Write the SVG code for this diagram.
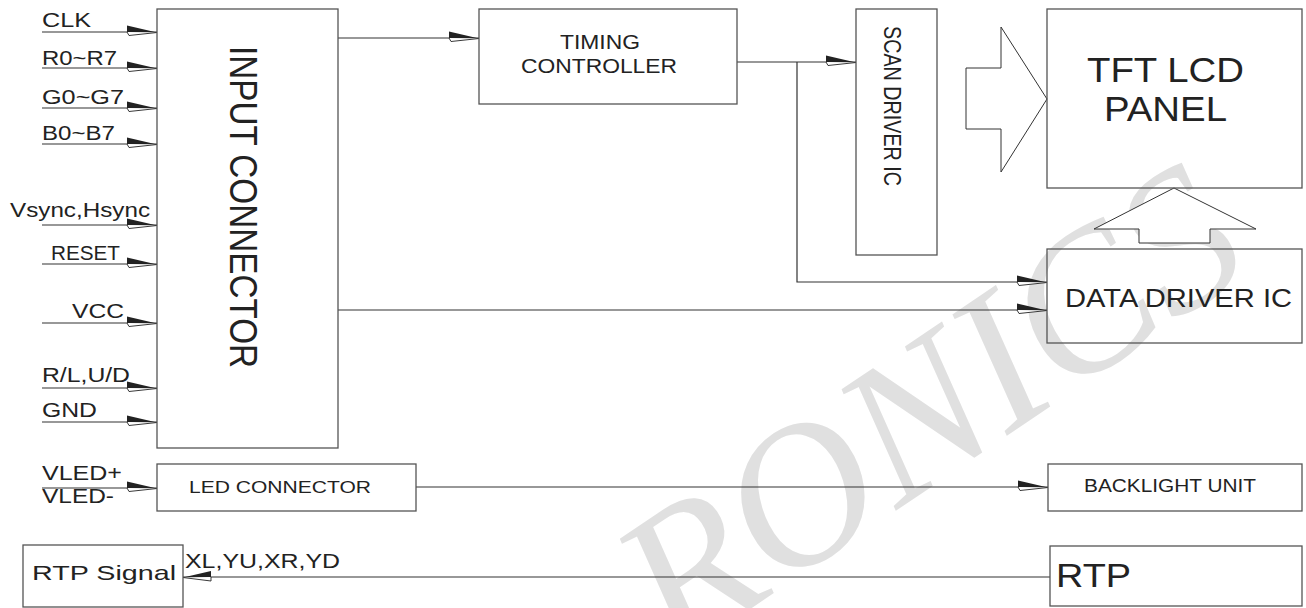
<svg xmlns="http://www.w3.org/2000/svg" width="1306" height="608" viewBox="0 0 1306 608">
<style>
  .box { fill: none; stroke: #555; stroke-width: 1.3; }
  .ln { fill: none; stroke: #333; stroke-width: 1.2; }
  .ln-r { marker-end: url(#arrowR); }
  .t { font-family: "Liberation Sans", Arial, sans-serif; fill: #222; }
  .blk { fill: #fff; stroke: #333; stroke-width: 1; }
  .wm { font-family: "Liberation Serif", "Times New Roman", serif; font-style: italic; fill: #e0e0e0; }
</style>
<defs>
  <marker id="arrowR" markerUnits="userSpaceOnUse" markerWidth="40" markerHeight="20" refX="0" refY="0" orient="0" overflow="visible">
    <path d="M0,0.5 L-30,-6.5 L-30,0 Z" fill="#222"/>
    <path d="M-30,0 L-28,3.5 L0,0.5" fill="#fff" stroke="#222" stroke-width="0.9"/>
  </marker>
  <marker id="arrowL" markerUnits="userSpaceOnUse" markerWidth="40" markerHeight="20" refX="0" refY="0" orient="0" overflow="visible">
    <path d="M0,0.5 L28,-6 L28,0 Z" fill="#222"/>
    <path d="M28,0 L28,4 L0,0.5" fill="#fff" stroke="#222" stroke-width="0.9"/>
  </marker>
</defs>
<rect width="1306" height="608" fill="#fff"/>

<g id="watermark">
  <text class="wm" font-size="200" transform="translate(676,659) rotate(-34)">RONICS</text>
</g>

<g id="connectors">
  <line class="ln ln-r" x1="42" y1="32" x2="157" y2="32"/>
  <line class="ln ln-r" x1="42" y1="68" x2="157" y2="68"/>
  <line class="ln ln-r" x1="42" y1="108" x2="157" y2="108"/>
  <line class="ln ln-r" x1="42" y1="144" x2="157" y2="144"/>
  <line class="ln ln-r" x1="42" y1="225" x2="157" y2="225"/>
  <line class="ln ln-r" x1="42" y1="264" x2="157" y2="264"/>
  <line class="ln ln-r" x1="42" y1="323" x2="157" y2="323"/>
  <line class="ln ln-r" x1="42" y1="388" x2="157" y2="388"/>
  <line class="ln ln-r" x1="42" y1="422" x2="157" y2="422"/>
  <line class="ln ln-r" x1="42" y1="488" x2="157" y2="488"/>
  <line class="ln ln-r" x1="338" y1="38" x2="479" y2="38"/>
  <line class="ln ln-r" x1="737" y1="62" x2="856" y2="62"/>
  <polyline class="ln ln-r" points="797,62 797,282 1047,282"/>
  <line class="ln ln-r" x1="338" y1="310" x2="1047" y2="310"/>
  <line class="ln ln-r" x1="416" y1="487" x2="1048" y2="487"/>
  <line class="ln" x1="1050" y1="577" x2="183" y2="577" marker-end="url(#arrowL)"/>
  <polygon class="blk" points="966,68 1001,68 1001,27 1047,99 1001,172 1001,129 966,129"/>
  <polygon class="blk" points="1174,188 1256,229 1210,229 1210,243 1139,243 1139,229 1094,229"/>
</g>

<g id="input-labels">
  <text class="t" x="42" y="27" font-size="20" textLength="49" lengthAdjust="spacingAndGlyphs">CLK</text>
  <text class="t" x="42" y="65" font-size="20" textLength="75" lengthAdjust="spacingAndGlyphs">R0~R7</text>
  <text class="t" x="42" y="104" font-size="20" textLength="82" lengthAdjust="spacingAndGlyphs">G0~G7</text>
  <text class="t" x="42" y="140" font-size="20" textLength="73" lengthAdjust="spacingAndGlyphs">B0~B7</text>
  <text class="t" x="10" y="217" font-size="21" textLength="140" lengthAdjust="spacingAndGlyphs">Vsync,Hsync</text>
  <text class="t" x="51" y="260" font-size="21" textLength="69" lengthAdjust="spacingAndGlyphs">RESET</text>
  <text class="t" x="72" y="318" font-size="21" textLength="52" lengthAdjust="spacingAndGlyphs">VCC</text>
  <text class="t" x="42" y="382" font-size="21" textLength="88" lengthAdjust="spacingAndGlyphs">R/L,U/D</text>
  <text class="t" x="42" y="417" font-size="20" textLength="55" lengthAdjust="spacingAndGlyphs">GND</text>
  <text class="t" x="42" y="480" font-size="20" textLength="80" lengthAdjust="spacingAndGlyphs">VLED+</text>
  <text class="t" x="42" y="503" font-size="20" textLength="72" lengthAdjust="spacingAndGlyphs">VLED-</text>
  <text class="t" x="185" y="568" font-size="20" textLength="155" lengthAdjust="spacingAndGlyphs">XL,YU,XR,YD</text>
</g>

<g id="input-connector">
  <rect class="box" x="157" y="9" width="181" height="439"/>
  <text class="t" font-size="39" textLength="322" lengthAdjust="spacingAndGlyphs" transform="translate(230,46) rotate(90)">INPUT CONNECTOR</text>
</g>

<g id="timing-controller">
  <rect class="box" x="479" y="9" width="258" height="95"/>
  <text class="t" x="560" y="49" font-size="20" textLength="80" lengthAdjust="spacingAndGlyphs">TIMING</text>
  <text class="t" x="521" y="73" font-size="20" textLength="156" lengthAdjust="spacingAndGlyphs">CONTROLLER</text>
</g>

<g id="scan-driver">
  <rect class="box" x="856" y="9" width="81" height="246"/>
  <text class="t" font-size="24.5" textLength="160" lengthAdjust="spacingAndGlyphs" transform="translate(884,26) rotate(90)">SCAN DRIVER IC</text>
</g>

<g id="tft-panel">
  <rect class="box" x="1047" y="9" width="255" height="179"/>
  <text class="t" x="1087" y="82" font-size="35" textLength="157" lengthAdjust="spacingAndGlyphs">TFT LCD</text>
  <text class="t" x="1104" y="121" font-size="35" textLength="123" lengthAdjust="spacingAndGlyphs">PANEL</text>
</g>

<g id="data-driver">
  <rect class="box" x="1047" y="249" width="255" height="94"/>
  <text class="t" x="1065" y="307" font-size="26.5" textLength="227" lengthAdjust="spacingAndGlyphs">DATA DRIVER IC</text>
</g>

<g id="led-connector">
  <rect class="box" x="157" y="464" width="259" height="47"/>
  <text class="t" x="189" y="493" font-size="17" textLength="182" lengthAdjust="spacingAndGlyphs">LED CONNECTOR</text>
</g>

<g id="backlight-unit">
  <rect class="box" x="1048" y="464" width="254" height="47"/>
  <text class="t" x="1084" y="492" font-size="18" textLength="172" lengthAdjust="spacingAndGlyphs">BACKLIGHT UNIT</text>
</g>

<g id="rtp-signal">
  <rect class="box" x="23" y="545" width="160" height="62"/>
  <text class="t" x="32" y="580" font-size="21" textLength="144" lengthAdjust="spacingAndGlyphs">RTP Signal</text>
</g>

<g id="rtp">
  <rect class="box" x="1050" y="546" width="252" height="60"/>
  <text class="t" x="1056" y="587" font-size="33.5" textLength="75" lengthAdjust="spacingAndGlyphs">RTP</text>
</g>
</svg>
